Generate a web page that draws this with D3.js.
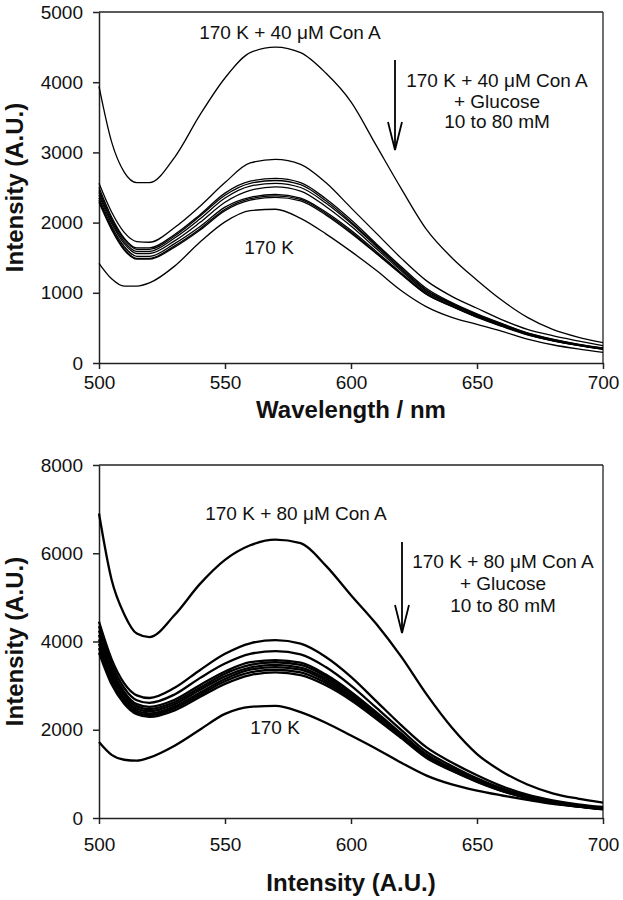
<!DOCTYPE html>
<html><head><meta charset="utf-8">
<script src="https://cdn.jsdelivr.net/npm/d3@7"></script>
<style>
body{margin:0;background:#fff}
svg{display:block}
text{font-family:"Liberation Sans",Arial,Helvetica,sans-serif;fill:#111}
</style>
</head><body>
<svg id="chart" width="623" height="900"></svg>
<script>
// ---------- data ----------
const wavelengths = [500,505,510,515,520,530,540,550,560,570,580,590,600,610,620,630,640,650,660,670,680,690,700];
const xTicks = [500,550,600,650,700];
const topYTicks = [0,1000,2000,3000,4000,5000];
const bottomYTicks = [0,2000,4000,6000,8000];

// Top panel: 170 K + 40 uM Con A, then + glucose 10..80 mM, then 170 K alone
const top40ConA = [3940,3150,2720,2570,2570,2930,3530,4060,4420,4500,4420,4130,3720,3100,2480,1900,1500,1180,890,650,480,370,290];
const top40Glucose10 = [2560,2150,1860,1730,1720,1930,2230,2570,2850,2900,2830,2570,2210,1850,1490,1170,950,780,615,480,390,315,245];
const top40Glucose20 = [2500,2080,1780,1640,1640,1830,2110,2420,2590,2630,2570,2340,2040,1700,1370,1060,860,700,560,430,340,270,215];
const top40Glucose30 = [2460,2050,1760,1620,1620,1810,2090,2390,2560,2600,2540,2310,2010,1680,1350,1040,850,690,555,425,335,265,210];
const top40Glucose40 = [2430,2020,1730,1590,1590,1780,2050,2350,2520,2560,2500,2280,1990,1660,1330,1030,840,680,545,420,330,262,208];
const top40Glucose50 = [2390,1990,1700,1560,1560,1740,2000,2290,2460,2510,2450,2230,1950,1630,1310,1010,830,670,540,415,325,258,205];
const top40Glucose60 = [2350,1950,1660,1520,1520,1700,1940,2220,2360,2400,2350,2150,1890,1590,1280,990,815,660,530,410,320,255,200];
const top40Glucose70 = [2320,1920,1630,1490,1490,1670,1910,2190,2340,2380,2330,2130,1870,1570,1270,980,810,655,525,405,318,252,198];
const top40Glucose80 = [2290,1900,1610,1480,1480,1650,1890,2170,2320,2360,2310,2110,1850,1560,1260,975,805,650,520,400,315,250,195];
const top170K = [1420,1200,1095,1095,1140,1380,1720,2010,2170,2190,2060,1840,1590,1320,1030,800,650,550,450,340,260,200,150];

// Bottom panel: 170 K + 80 uM Con A, + glucose 10..80 mM, 170 K alone
const bot80ConA = [6900,5400,4620,4180,4100,4600,5300,5850,6180,6310,6230,5720,5050,4400,3650,2800,2050,1450,1050,760,560,440,350];
const bot80Glucose10 = [4450,3600,3050,2780,2720,2950,3350,3720,3960,4030,3950,3650,3200,2650,2100,1600,1260,970,720,530,400,310,250];
const bot80Glucose20 = [4350,3500,2950,2670,2610,2800,3170,3500,3720,3780,3710,3420,3000,2500,1990,1500,1180,900,670,500,380,290,230];
const bot80Glucose30 = [4250,3400,2860,2580,2520,2680,3010,3320,3530,3580,3520,3250,2860,2400,1910,1440,1130,870,650,480,365,280,220];
const bot80Glucose40 = [4150,3330,2800,2530,2470,2630,2950,3270,3470,3530,3470,3210,2830,2370,1890,1420,1110,860,640,475,360,275,215];
const bot80Glucose50 = [4050,3250,2740,2480,2420,2580,2900,3210,3410,3470,3410,3160,2790,2340,1870,1400,1100,850,630,470,355,270,210];
const bot80Glucose60 = [3950,3180,2690,2430,2370,2530,2840,3150,3360,3420,3360,3110,2750,2310,1850,1390,1090,840,620,460,350,265,205];
const bot80Glucose70 = [3850,3100,2640,2390,2330,2490,2790,3100,3300,3360,3300,3060,2710,2280,1830,1370,1080,830,615,455,345,262,200];
const bot80Glucose80 = [3750,3030,2590,2350,2290,2440,2740,3040,3240,3300,3240,3010,2670,2250,1810,1360,1070,820,610,450,340,258,195];
const bot170K = [1720,1430,1320,1300,1370,1640,2000,2360,2520,2540,2400,2160,1870,1570,1250,960,760,620,510,410,320,260,210];

const topSeries = [top40ConA, top40Glucose10, top40Glucose20, top40Glucose30, top40Glucose40,
  top40Glucose50, top40Glucose60, top40Glucose70, top40Glucose80, top170K];
const botSeries = [bot80ConA, bot80Glucose10, bot80Glucose20, bot80Glucose30, bot80Glucose40,
  bot80Glucose50, bot80Glucose60, bot80Glucose70, bot80Glucose80, bot170K];

// ---------- drawing ----------
const svg = d3.select("#chart");

function panel(cfg){
  const g = svg.append("g");
  const x = d3.scaleLinear().domain([500,700]).range([99,603]);
  const y = d3.scaleLinear().domain([0,cfg.ymax]).range([cfg.y0,cfg.y1]);

  // frame (top and right)
  g.append("line").attr("x1",x(500)).attr("x2",x(700)).attr("y1",y(cfg.ymax)).attr("y2",y(cfg.ymax))
    .attr("stroke","#222").attr("stroke-width",1.3);
  g.append("line").attr("x1",x(700)).attr("x2",x(700)).attr("y1",y(cfg.ymax)).attr("y2",y(0))
    .attr("stroke","#222").attr("stroke-width",1.3);

  const ax = g.append("g").attr("transform",`translate(0,${y(0)})`)
    .call(d3.axisBottom(x).tickValues(xTicks).tickFormat(d3.format("d")).tickSize(6).tickSizeOuter(0).tickPadding(cfg.xpad));
  const ay = g.append("g").attr("transform",`translate(${x(500)},0)`)
    .call(d3.axisLeft(y).tickValues(cfg.yTicks).tickFormat(d3.format("d")).tickSize(6).tickSizeOuter(0).tickPadding(10));
  [ax,ay].forEach(a=>{
    a.selectAll("path,line").attr("stroke","#222").attr("stroke-width",1.5);
    a.selectAll("text").attr("font-size",19).attr("fill","#111")
      .style("font-family",'"Liberation Sans",Arial,sans-serif');
  });

  const line = d3.line().x((d,i)=>x(wavelengths[i])).y(d=>y(d)).curve(d3.curveMonotoneX);
  g.selectAll("path.s").data(cfg.series).enter().append("path").attr("class","s")
    .attr("d",line).attr("fill","none").attr("stroke","#000").attr("stroke-width",cfg.lw)
    .attr("stroke-linejoin","round");

  // axis titles
  g.append("text").attr("transform",`translate(23,${(y(0)+y(cfg.ymax))/2}) rotate(-90)`)
    .attr("text-anchor","middle").attr("font-size",24).attr("font-weight","bold").text("Intensity (A.U.)");
  g.append("text").attr("x",(x(500)+x(700))/2).attr("y",cfg.xtitleY)
    .attr("text-anchor","middle").attr("font-size",24).attr("font-weight","bold").text(cfg.xtitle);

  // annotations
  g.append("text").attr("x",cfg.capX).attr("y",cfg.capY).attr("text-anchor","middle")
    .attr("font-size",19).text(cfg.caption);
  g.append("text").attr("x",cfg.lowX).attr("y",cfg.lowY).attr("text-anchor","middle")
    .attr("font-size",19).text("170 K");
  const t = g.append("text").attr("text-anchor","middle").attr("font-size",19);
  cfg.right.forEach((s,i)=>t.append("tspan").attr("x",cfg.rX).attr("y",cfg.rY + i*cfg.rDy).text(s));

  // arrow
  const a = g.append("g").attr("stroke","#000").attr("stroke-width",1.8).attr("fill","none");
  a.append("line").attr("x1",cfg.arX).attr("x2",cfg.arX).attr("y1",cfg.arY1).attr("y2",cfg.arY2);
  a.append("path").attr("d",`M${cfg.arX-7},${cfg.arY2-28} L${cfg.arX},${cfg.arY2} L${cfg.arX+7},${cfg.arY2-28}`);
}

panel({
  ymax:5000, y0:363, y1:12, yTicks:topYTicks, series:topSeries, lw:1.3, xpad:7,
  xtitle:"Wavelength / nm", xtitleY:418,
  caption:"170 K + 40 \u03BCM Con A", capX:290, capY:39,
  lowX:269, lowY:254,
  right:["170 K + 40 \u03BCM Con A","+ Glucose","10 to 80 mM"], rX:497, rY:87, rDy:20.5,
  arX:395, arY1:60, arY2:150
});
panel({
  ymax:8000, y0:818, y1:465, yTicks:bottomYTicks, series:botSeries, lw:2.3, xpad:14,
  xtitle:"Intensity (A.U.)", xtitleY:891,
  caption:"170 K + 80 \u03BCM Con A", capX:296, capY:520,
  lowX:275, lowY:734,
  right:["170 K + 80 \u03BCM Con A","+ Glucose","10 to 80 mM"], rX:503, rY:568, rDy:22,
  arX:402, arY1:542, arY2:633
});
</script>
</body></html>
